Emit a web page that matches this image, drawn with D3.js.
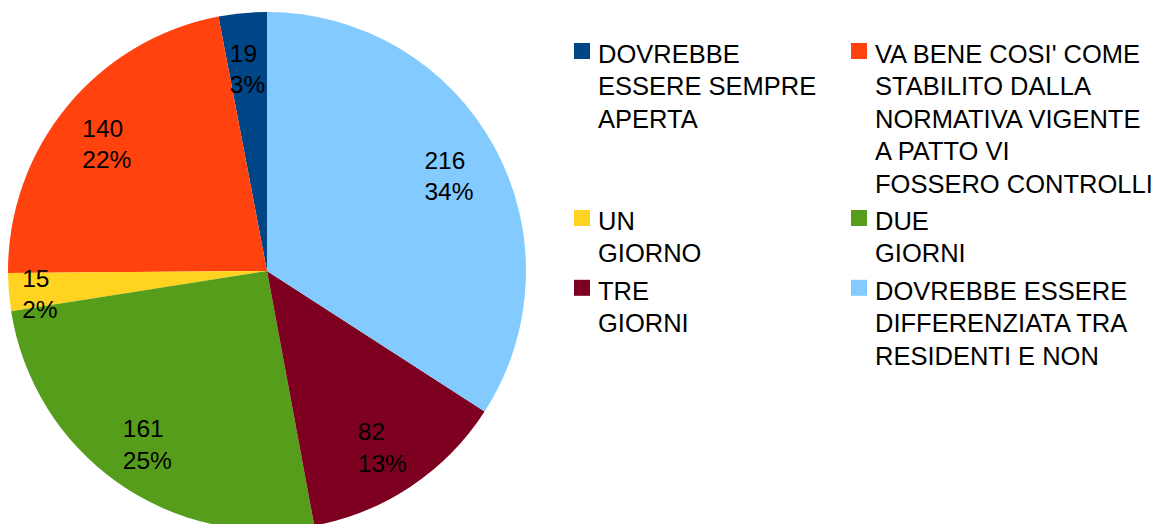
<!DOCTYPE html>
<html>
<head>
<meta charset="utf-8">
<script src="https://cdn.jsdelivr.net/npm/d3@7"></script>
<style>
  html, body { margin: 0; padding: 0; background: #fff; }
  svg { display: block; font-family: "Liberation Sans", Arial, sans-serif; }
</style>
</head>
<body>
<svg id="chart" width="1162" height="524"></svg>
<script>
'use strict';

// ── Data ────────────────────────────────────────────────────────────────
const categories = [
  ['DOVREBBE', 'ESSERE SEMPRE', 'APERTA'],
  ["VA BENE COSI' COME", 'STABILITO DALLA', 'NORMATIVA VIGENTE', 'A PATTO VI', 'FOSSERO CONTROLLI'],
  ['UN', 'GIORNO'],
  ['DUE', 'GIORNI'],
  ['TRE', 'GIORNI'],
  ['DOVREBBE ESSERE', 'DIFFERENZIATA TRA', 'RESIDENTI E NON']
];
const values = [19, 140, 15, 161, 82, 216];
const colors = ['#004586', '#ff420e', '#ffd320', '#579d1c', '#7e0021', '#83caff'];

const svg = d3.select('#chart');

// ── Pie ─────────────────────────────────────────────────────────────────
const cx = 267, cy = 271, radius = 259;
const total = d3.sum(values);

// drawn counter-clockwise from 12 o'clock
const pie = d3.pie().sort(null).startAngle(0).endAngle(-2 * Math.PI);
const pieData = pie(values);

const arc = d3.arc().innerRadius(0).outerRadius(radius);
const g = svg.append('g').attr('transform', `translate(${cx},${cy})`);

g.selectAll('path')
  .data(pieData).join('path')
  .attr('d', arc)
  .attr('fill', (d, i) => colors[i]);

// ── Slice labels ────────────────────────────────────────────────────────
const labelFont = 24.5, labelLine = 31.5;
pieData.forEach(d => {
  const frac = d.value / total;
  const rr = radius * (frac < 0.025 ? 0.88 : 0.8);
  const [x, y] = d3.arc().innerRadius(rr).outerRadius(rr).centroid(d);
  const lines = [String(d.value), Math.round(frac * 100) + '%'];
  const t = g.append('text')
    .attr('font-size', labelFont)
    .attr('fill', '#000');
  lines.forEach((s, k) => {
    t.append('tspan').attr('x', 0).attr('y', k * labelLine).text(s);
  });
  const w = d3.max(t.selectAll('tspan').nodes(), n => n.getComputedTextLength());
  // block: first cap top at -0.72*font, last baseline at labelLine
  const top = -0.72 * labelFont, bottom = labelLine;
  t.attr('transform', `translate(${x - w / 2},${y - (top + bottom) / 2 + 4})`);
});

// ── Legend ──────────────────────────────────────────────────────────────
const legendFont = 25.5, legendLine = 32.4, rowGap = 5;
const colX = [574, 851];
const boxSize = 16;
const legend = svg.append('g');

let rowTop = 43;
for (let r = 0; r < categories.length; r += 2) {
  const pair = [r, r + 1].filter(i => i < categories.length);
  const nLines = d3.max(pair, i => categories[i].length);
  pair.forEach((i, c) => {
    const item = legend.append('g').attr('transform', `translate(${colX[c]},${rowTop})`);
    item.append('rect')
      .attr('width', boxSize).attr('height', boxSize)
      .attr('fill', colors[i]);
    const t = item.append('text').attr('font-size', legendFont).attr('fill', '#000');
    categories[i].forEach((s, k) => {
      t.append('tspan').attr('x', 24).attr('y', 20 + k * legendLine).text(s);
    });
  });
  rowTop += nLines * legendLine + rowGap;
}
</script>
</body>
</html>
